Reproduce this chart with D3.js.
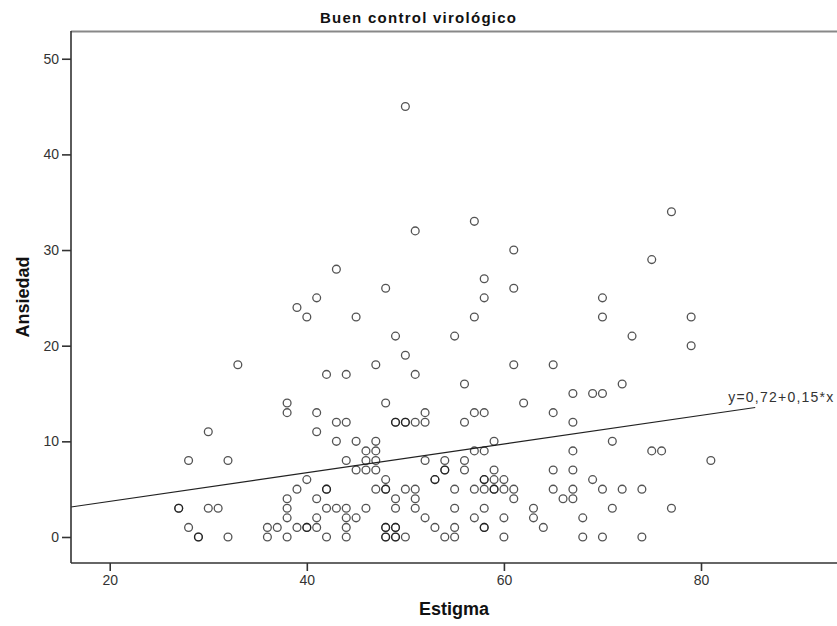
<!DOCTYPE html>
<html><head><meta charset="utf-8">
<script src="https://cdn.jsdelivr.net/npm/d3@7"></script>
<style>body{margin:0;background:#fff}svg{display:block}text{font-family:"Liberation Sans",Arial,sans-serif}</style>
</head><body>
<svg id="c" width="837" height="626"></svg>
<script>
// Estigma (x) and Ansiedad (y) values
const estigma = [27,27,28,28,29,29,30,30,31,32,32,33,36,36,37,
 38,38,38,38,38,38,39,39,39,40,40,40,40,41,41,41,41,41,41,
 42,42,42,42,42,43,43,43,43,44,44,44,44,44,44,44,45,45,45,45,
 46,46,46,46,47,47,47,47,47,47,48,48,48,48,48,48,48,48,48,
 49,49,49,49,49,49,49,49,49,50,50,50,50,50,50,51,51,51,51,51,51,
 52,52,52,52,53,53,53,54,54,54,54,55,55,55,55,55,56,56,56,56,
 57,57,57,57,57,57,58,58,58,58,58,58,58,58,58,58,59,59,59,59,59,
 60,60,60,60,61,61,61,61,61,62,63,63,64,65,65,65,65,66,
 67,67,67,67,67,67,68,68,69,69,70,70,70,70,70,71,71,72,72,73,
 74,74,75,75,76,77,77,79,79,81];
const ansiedad = [3,3,8,1,0,0,11,3,3,8,0,18,1,0,1,
 14,13,4,3,2,0,24,5,1,23,6,1,1,25,13,11,4,2,1,
 17,5,5,3,0,28,12,10,3,17,12,8,3,2,1,0,23,10,7,2,
 9,8,7,3,18,10,9,8,7,5,26,14,6,5,5,1,1,0,0,
 21,12,12,4,3,1,1,0,0,45,19,12,12,5,0,32,17,12,5,4,3,
 13,12,8,2,6,6,1,8,7,7,0,21,5,3,1,0,16,12,8,7,
 33,23,13,9,5,2,27,25,13,9,6,6,5,3,1,1,10,7,6,5,5,
 6,5,2,0,30,26,18,5,4,14,3,2,1,18,13,7,5,4,
 15,12,9,7,5,4,2,0,15,6,25,23,15,5,0,10,3,16,5,21,
 5,0,29,9,9,34,3,23,20,8];
const xTicks = [20,40,60,80];
const yTicks = [0,10,20,30,40,50];
const fit = {a:0.72, b:0.15, x0:16.07, x1:85.5, label:"y=0,72+0,15*x"};
const title = "Buen control virológico", xLabel = "Estigma", yLabel = "Ansiedad";

const svg = d3.select("#c");
const L=71, R=837, T=31, B=563;
const x = d3.scaleLinear().domain([16.07,93.8]).range([L,R]);
const y = d3.scaleLinear().domain([-2.72,52.9]).range([B,T]);
const axisCol = "#333";
const ff = "'Liberation Sans',Arial,sans-serif";

// top frame
svg.append("line").attr("x1",L).attr("x2",R).attr("y1",T+0.5).attr("y2",T+0.5)
  .attr("stroke","#888").attr("stroke-width",2);

// fit line
svg.append("line").attr("x1",x(fit.x0)).attr("y1",y(fit.a+fit.b*fit.x0))
  .attr("x2",x(fit.x1)).attr("y2",y(fit.a+fit.b*fit.x1))
  .attr("stroke","#222").attr("stroke-width",1.1);
svg.append("text").attr("x",x(fit.x1)-27).attr("y",y(fit.a+fit.b*fit.x1)-5)
  .attr("font-size",14).attr("fill","#333").attr("textLength",105).attr("lengthAdjust","spacing").text(fit.label);

// points
svg.append("g").selectAll("circle").data(estigma.map((v,i)=>[v,ansiedad[i]])).join("circle")
  .attr("cx",d=>x(d[0])).attr("cy",d=>y(d[1])).attr("r",3.9)
  .attr("fill","none").attr("stroke","#111").attr("stroke-opacity",0.72).attr("stroke-width",1.3);

// axes
const xa = svg.append("g").attr("transform",`translate(0,${B})`)
  .call(d3.axisBottom(x).tickValues(xTicks).tickSize(8).tickPadding(4).tickFormat(d3.format("d")));
xa.select(".domain").attr("stroke",axisCol).attr("stroke-width",1.6).attr("d",`M${L},0H${R}`);
xa.selectAll(".tick line").attr("stroke",axisCol).attr("stroke-width",1.6);
xa.selectAll(".tick text").attr("fill","#333").attr("font-size",14).style("font-family",ff);

const ya = svg.append("g").attr("transform",`translate(${L},0)`)
  .call(d3.axisLeft(y).tickValues(yTicks).tickSize(9).tickPadding(3).tickFormat(d3.format("d")));
ya.select(".domain").attr("stroke",axisCol).attr("stroke-width",1.6).attr("d",`M0,${T}V${B}`);
ya.selectAll(".tick line").attr("stroke",axisCol).attr("stroke-width",1.6);
ya.selectAll(".tick text").attr("fill","#333").attr("font-size",14).style("font-family",ff);

// labels
svg.append("text").attr("x",418).attr("y",23).attr("text-anchor","middle")
  .attr("font-size",15).attr("font-weight","bold").attr("fill","#111")
  .attr("textLength",196).attr("lengthAdjust","spacing").text(title);
svg.append("text").attr("x",(L+R)/2).attr("y",615).attr("text-anchor","middle")
  .attr("font-size",18).attr("font-weight","bold").attr("fill","#111").text(xLabel);
svg.append("text").attr("transform",`translate(29,${(T+B)/2}) rotate(-90)`).attr("text-anchor","middle")
  .attr("font-size",18).attr("font-weight","bold").attr("fill","#111").text(yLabel);
</script>
</body></html>
